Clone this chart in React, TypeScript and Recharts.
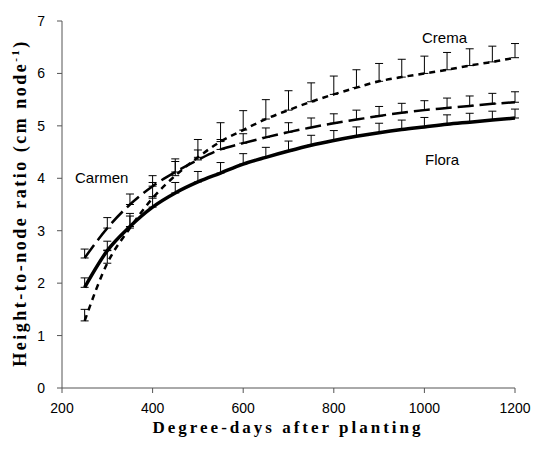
import React from "react";
import { ErrorBar, Line, LineChart, XAxis, YAxis } from "recharts";

// degree-days after planting (sampling dates)
const degreeDays = [
  250, 300, 350, 400, 450, 500, 550, 600, 650, 700, 750, 800, 850, 900, 950,
  1000, 1050, 1100, 1150, 1200,
];

const flora = [
  1.92, 2.62, 3.08, 3.45, 3.72, 3.93, 4.1, 4.27, 4.4, 4.52, 4.63, 4.72, 4.8,
  4.87, 4.93, 4.98, 5.03, 5.07, 5.11, 5.15,
];
const floraSe = [
  0.18, 0.18, 0.2, 0.2, 0.2, 0.2, 0.2, 0.2, 0.19, 0.19, 0.19, 0.19, 0.18, 0.18,
  0.18, 0.18, 0.18, 0.17, 0.17, 0.17,
];

const carmen = [
  2.48, 3.05, 3.5, 3.85, 4.12, 4.35, 4.55, 4.67, 4.78, 4.88, 4.97, 5.05, 5.12,
  5.19, 5.25, 5.3, 5.34, 5.38, 5.42, 5.45,
];
const carmenSe = [
  0.17, 0.2, 0.2, 0.2, 0.2, 0.19, 0.19, 0.18, 0.18, 0.18, 0.18, 0.18, 0.18,
  0.18, 0.18, 0.18, 0.19, 0.19, 0.2, 0.2,
];

const crema = [
  1.28, 2.38, 3.05, 3.62, 4.05, 4.4, 4.7, 4.92, 5.13, 5.3, 5.46, 5.6, 5.73, 5.85,
  5.93, 6.0, 6.07, 6.15, 6.22, 6.3,
];
const cremaSe = [
  0.22, 0.25, 0.28, 0.3, 0.32, 0.34, 0.36, 0.37, 0.37, 0.37, 0.36, 0.35, 0.34,
  0.34, 0.34, 0.33, 0.33, 0.32, 0.3, 0.27,
];

const xTicks = [200, 400, 600, 800, 1000, 1200];
const yTicks = [0, 1, 2, 3, 4, 5, 6, 7];

const data = degreeDays.map((dd, i) => ({
  dd,
  flora: flora[i],
  floraErr: [0, floraSe[i]],
  carmen: carmen[i],
  carmenErr: [0, carmenSe[i]],
  crema: crema[i],
  cremaErr: [0, cremaSe[i]],
}));

const AXIS = "#555";
const tickStyle = { fontSize: 14, fill: "#000", fontFamily: "Liberation Sans, Arial" };
const seriesLabel: React.CSSProperties = {
  position: "absolute",
  fontFamily: "Liberation Sans, Arial",
  fontSize: 15,
  lineHeight: "15px",
  color: "#000",
  whiteSpace: "nowrap",
};
const axisTitle: React.CSSProperties = {
  position: "absolute",
  fontFamily: "Liberation Serif, Times New Roman, serif",
  fontWeight: "bold",
  color: "#000",
  whiteSpace: "nowrap",
  lineHeight: "18px",
};

export default function App() {
  return (
    <div style={{ position: "absolute", left: 0, top: 0, width: 534, height: 450 }}>
      <LineChart
        width={534}
        height={450}
        data={data}
        margin={{ top: 21, right: 19, bottom: 0, left: 0 }}
      >
        <XAxis
          dataKey="dd"
          type="number"
          domain={[200, 1200]}
          ticks={xTicks}
          height={62}
          stroke={AXIS}
          tickSize={5}
          tickMargin={10}
          tick={tickStyle}
          interval={0}
        />
        <YAxis
          type="number"
          domain={[0, 7]}
          ticks={yTicks}
          width={62}
          stroke={AXIS}
          tickSize={5}
          tickMargin={12}
          tick={tickStyle}
          interval={0}
        />
        <Line
          dataKey="crema"
          type="monotone"
          stroke="#000"
          strokeWidth={2.5}
          strokeDasharray="6 5"
          dot={false}
          isAnimationActive={false}
        >
          <ErrorBar dataKey="cremaErr" direction="y" width={4} stroke="#000" strokeWidth={1} />
        </Line>
        <Line
          dataKey="carmen"
          type="monotone"
          stroke="#000"
          strokeWidth={2.5}
          strokeDasharray="16 6"
          dot={false}
          isAnimationActive={false}
        >
          <ErrorBar dataKey="carmenErr" direction="y" width={4} stroke="#000" strokeWidth={1} />
        </Line>
        <Line
          dataKey="flora"
          type="monotone"
          stroke="#000"
          strokeWidth={3.5}
          dot={false}
          isAnimationActive={false}
        >
          <ErrorBar dataKey="floraErr" direction="y" width={4} stroke="#000" strokeWidth={1} />
        </Line>
      </LineChart>

      <div style={{ ...seriesLabel, left: 422, top: 30 }}>Crema</div>
      <div style={{ ...seriesLabel, left: 75, top: 170 }}>Carmen</div>
      <div style={{ ...seriesLabel, left: 425, top: 152 }}>Flora</div>

      <div
        style={{
          ...axisTitle,
          fontSize: 17,
          letterSpacing: 3,
          left: 288,
          top: 428,
          transform: "translate(-50%, -50%)",
        }}
      >
        Degree-days after planting
      </div>
      <div
        style={{
          ...axisTitle,
          fontSize: 18,
          letterSpacing: 2.5,
          left: 20,
          top: 203,
          transform: "translate(-50%, -50%) rotate(-90deg)",
        }}
      >
        Height-to-node ratio (cm node<sup style={{ fontSize: 11, lineHeight: 0 }}>-1</sup>)
      </div>
    </div>
  );
}
